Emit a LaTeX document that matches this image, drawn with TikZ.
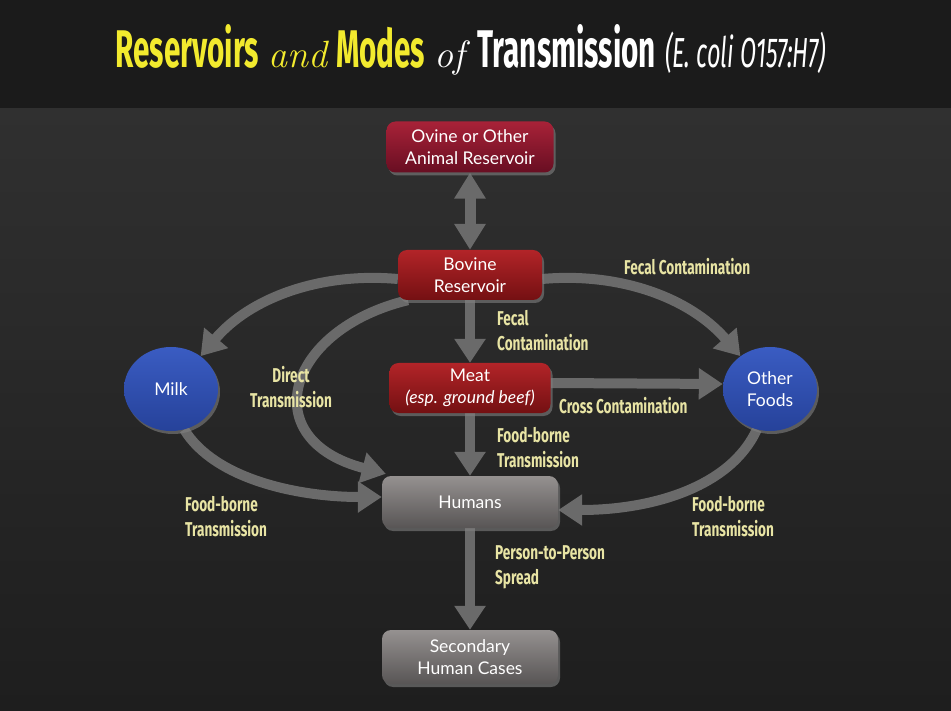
\documentclass[tikz,border=0pt]{standalone}
\usepackage{fontspec}
\setmainfont{Lato}
\newfontfamily\condf[FakeStretch=0.68]{Fira Sans}
\newfontfamily\ttlf[FakeStretch=0.56]{Fira Sans}
\newfontfamily\scrf{Latin Modern Roman}
\usetikzlibrary{arrows.meta,shapes.geometric,shadows}
\pgfdeclarelayer{back}\pgfdeclarelayer{bg}
\pgfsetlayers{back,bg,main}
\definecolor{hdr}{HTML}{1B1B1B}
\definecolor{bgtop}{HTML}{303030}
\definecolor{bgbot}{HTML}{1E1E1E}
\definecolor{arrc}{HTML}{6A6A6A}
\definecolor{lblc}{HTML}{E8E4A4}
\definecolor{ttly}{HTML}{F2EA2E}
\definecolor{redtop}{HTML}{B22428}
\definecolor{redbot}{HTML}{741012}
\definecolor{ovitop}{HTML}{A82238}
\definecolor{ovibot}{HTML}{680E22}
\definecolor{grtop}{HTML}{959190}
\definecolor{grbot}{HTML}{585555}
\definecolor{blutop}{HTML}{3A5CC2}
\definecolor{blubot}{HTML}{26429A}
\tikzset{
  boxbase/.style={rounded corners=9pt, align=center, text=white,
    font=\fontsize{17.5}{21.5}\selectfont,
    drop shadow={opacity=0.6, shadow xshift=2pt, shadow yshift=-3pt}},
  redbox/.style={boxbase, top color=redtop, bottom color=redbot},
  ovibox/.style={boxbase, top color=ovitop, bottom color=ovibot},
  greybox/.style={boxbase, top color=grtop, bottom color=grbot},
  blueell/.style={ellipse, minimum width=94pt, minimum height=84pt, inner sep=0pt,
    align=center, text=white, font=\fontsize{17.5}{21.5}\selectfont,
    top color=blutop, bottom color=blubot,
    drop shadow={opacity=0.6, shadow xshift=2pt, shadow yshift=-3pt}},
  lbl/.style={text=lblc, align=left, inner sep=0pt,
    font=\condf\bfseries\fontsize{20}{25}\selectfont},
  arr/.style={draw=arrc, line width=10pt, -{Triangle[width=30pt,length=24pt]}},
  darr/.style={draw=arrc, line width=11pt, {Triangle[width=30pt,length=26pt]}-{Triangle[width=30pt,length=26pt]}},
}
\begin{document}
\begin{tikzpicture}[x=1pt,y=-1pt]
\useasboundingbox (0,0) rectangle (951,711);
\begin{pgfonlayer}{back}
  \shade[top color=bgtop, bottom color=bgbot] (0,108) rectangle (951,711);
  \fill[hdr] (0,0) rectangle (951,108);
\end{pgfonlayer}

% title
\node[inner sep=0pt, anchor=base] (title) at (471,68) {%
  \ttlf\bfseries\fontsize{53}{58}\selectfont
  \textcolor{ttly}{Reservoirs\hspace{9pt}{\scrf\mdseries\itshape\fontsize{38}{44}\selectfont and}\hspace{9pt}Modes}\hspace{9pt}%
  \textcolor{white}{{\scrf\mdseries\itshape\fontsize{38}{44}\selectfont of}\hspace{13pt}Transmission\hspace{9pt}%
  {\mdseries\itshape\fontsize{42}{46}\selectfont (E. coli O157:H7)}}};

% nodes
\node[ovibox, minimum width=167pt, minimum height=51pt] (ovi) at (470,147) {Ovine or Other\\Animal Reservoir};
\node[redbox, minimum width=144pt, minimum height=50pt] (bov) at (470,275) {Bovine\\Reservoir};
\node[redbox, minimum width=161pt, minimum height=50pt] (meat) at (470,388) {Meat\\{\itshape\fontsize{17.5}{21.5}\selectfont (esp. ground beef)}};
\node[greybox, minimum width=176pt, minimum height=52pt] (hum) at (470,502) {Humans};
\node[greybox, minimum width=176pt, minimum height=54pt] (sec) at (470,657) {Secondary\\Human Cases};
\node[blueell] (milk) at (171,389) {Milk};
\node[blueell] (oth) at (770,389) {Other\\Foods};

% connectors
\begin{pgfonlayer}{bg}
  \draw[darr] (ovi) -- (bov);
  \draw[arr] (bov) -- (meat);
  \draw[arr] (meat) -- (hum);
  \draw[arr] (hum) -- (sec);
  \draw[arr] ([yshift=5pt]meat.east) -- ([yshift=5pt]oth.west);
  \draw[arr] ([yshift=-4pt]bov.west) .. controls (320,272) and (250,298) .. (milk.48);
  \draw[arr] ([yshift=-4pt]bov.east) .. controls (620,272) and (690,298) .. (oth.132);
  \draw[arr] ([xshift=10pt]bov.south west) .. controls (285,330) and (255,440) .. ([xshift=4pt,yshift=2pt]hum.north west);
  \draw[arr] (milk.-72) .. controls (215,480) and (300,497) .. ([yshift=5pt]hum.west);
  \draw[arr] (oth.-108) .. controls (730,488) and (650,510) .. ([yshift=-8pt]hum.east);
\end{pgfonlayer}

% labels
\node[lbl, anchor=west] (l1) at (624,267) {Fecal Contamination};
\node[lbl, anchor=west] (l2) at (497,331) {Fecal\\Contamination};
\node[lbl, align=center] (l3) at (291,387) {Direct\\Transmission};
\node[lbl, anchor=west] (l4) at (559,406) {Cross Contamination};
\node[lbl, anchor=west] (l5) at (497,448) {Food-borne\\Transmission};
\node[lbl, anchor=west] (l6) at (185,517) {Food-borne\\Transmission};
\node[lbl, anchor=west] (l7) at (692,517) {Food-borne\\Transmission};
\node[lbl, anchor=west] (l8) at (495,567) {Person-to-Person\\Spread};
\end{tikzpicture}
\end{document}
